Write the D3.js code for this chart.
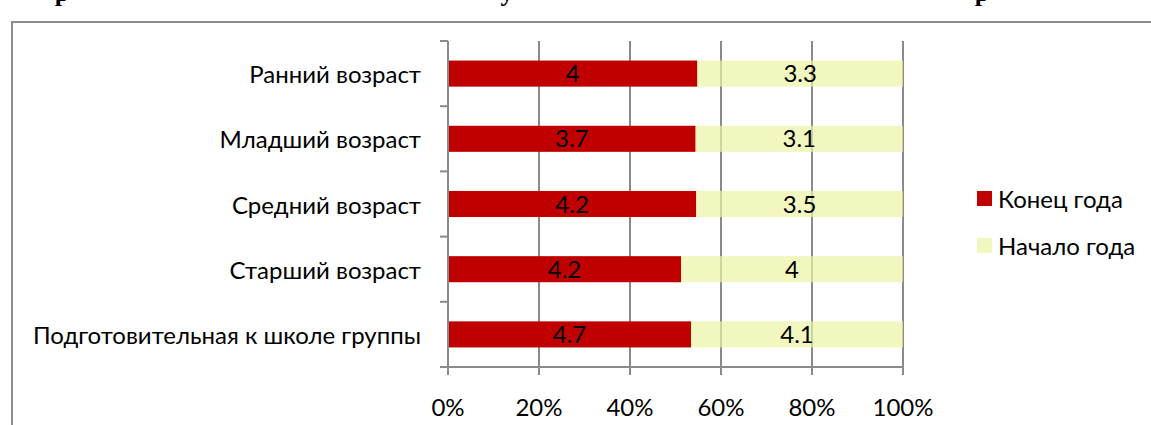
<!DOCTYPE html>
<html>
<head>
<meta charset="utf-8">
<script src="https://cdn.jsdelivr.net/npm/d3@7"></script>
<style>
  body { margin: 0; background: #fff; }
  svg text { font-family: Lato, "Open Sans", sans-serif; }
</style>
</head>
<body>
<script>
// chart data
const categories = ['Ранний возраст', 'Младший возраст', 'Средний возраст', 'Старший возраст', 'Подготовительная к школе группы'];
const endOfYear = [4, 3.7, 4.2, 4.2, 4.7];
const startOfYear = [3.3, 3.1, 3.5, 4, 4.1];
const seriesNames = ['Конец года', 'Начало года'];
const xTicks = [0, 0.2, 0.4, 0.6, 0.8, 1];

const width = 1151, height = 425;
const fontSize = '24px';

const svg = d3.select('body')
    .append('svg')
    .attr('width', width)
    .attr('height', height);

// cut-off title line from the page above (only descenders visible)
const titleBits = [{ t: 'р', x: 62 }, { t: 'у', x: 507 }, { t: 'р', x: 982 }];
svg.selectAll('.title-bit')
    .data(titleBits)
    .enter()
    .append('text')
    .attr('class', 'title-bit')
    .attr('x', d => d.x)
    .attr('y', 1)
    .style('font-family', '"Liberation Serif", serif')
    .style('font-weight', 'bold')
    .style('font-size', '26px')
    .attr('text-anchor', 'middle')
    .text(d => d.t);

// chart frame
svg.append('path')
    .attr('d', `M12,${height} V22 H${width}`)
    .attr('fill', 'none')
    .attr('stroke', '#8c8c8c')
    .attr('stroke-width', 2);

const x = d3.scaleLinear().domain([0, 1]).range([448, 903]);
const y = d3.scaleBand().domain(categories).range([41, 367]).paddingInner(0.6).paddingOuter(0.3);

const gridColor = '#8a8a8a';

// vertical gridlines
svg.selectAll('.grid')
    .data(xTicks)
    .enter()
    .append('line')
    .attr('class', 'grid')
    .attr('x1', d => x(d))
    .attr('x2', d => x(d))
    .attr('y1', 41)
    .attr('y2', 375)
    .attr('stroke', gridColor)
    .attr('stroke-width', 2);

// stacked 100% bars
const rows = categories.map((c, i) => {
    const total = endOfYear[i] + startOfYear[i];
    return { cat: c, end: endOfYear[i], start: startOfYear[i], p: endOfYear[i] / total };
});

svg.selectAll('.bar-end')
    .data(rows)
    .enter()
    .append('rect')
    .attr('class', 'bar-end')
    .attr('x', x(0))
    .attr('y', d => y(d.cat))
    .attr('width', d => x(d.p) - x(0))
    .attr('height', y.bandwidth())
    .attr('fill', '#c00000');

svg.selectAll('.bar-start')
    .data(rows)
    .enter()
    .append('rect')
    .attr('class', 'bar-start')
    .attr('x', d => x(d.p))
    .attr('y', d => y(d.cat))
    .attr('width', d => x(1) - x(d.p))
    .attr('height', y.bandwidth())
    .attr('fill', 'rgb(236,244,165)')
    .attr('fill-opacity', 0.7);

// data labels
svg.selectAll('.lbl-end')
    .data(rows)
    .enter()
    .append('text')
    .attr('x', d => (x(0) + x(d.p)) / 2)
    .attr('y', d => y(d.cat) + y.bandwidth() / 2)
    .attr('dy', '0.36em')
    .attr('text-anchor', 'middle')
    .style('font-size', fontSize)
    .attr('fill', '#000')
    .text(d => d.end);

svg.selectAll('.lbl-start')
    .data(rows)
    .enter()
    .append('text')
    .attr('x', d => (x(d.p) + x(1)) / 2)
    .attr('y', d => y(d.cat) + y.bandwidth() / 2)
    .attr('dy', '0.36em')
    .attr('text-anchor', 'middle')
    .style('font-size', fontSize)
    .attr('fill', '#000')
    .text(d => d.start);

// y axis line and ticks at band boundaries
svg.append('line')
    .attr('x1', x(0)).attr('x2', x(0))
    .attr('y1', 41).attr('y2', 367)
    .attr('stroke', gridColor).attr('stroke-width', 2);

const bounds = d3.range(categories.length + 1).map(i => 41 + i * y.step());
svg.selectAll('.ytick')
    .data(bounds)
    .enter()
    .append('line')
    .attr('x1', x(0) - 8).attr('x2', x(0))
    .attr('y1', d => d).attr('y2', d => d)
    .attr('stroke', gridColor).attr('stroke-width', 2);

// x axis line
svg.append('line')
    .attr('x1', x(0) - 8).attr('x2', x(1))
    .attr('y1', 367).attr('y2', 367)
    .attr('stroke', gridColor).attr('stroke-width', 2);

// category labels
svg.selectAll('.cat')
    .data(categories)
    .enter()
    .append('text')
    .attr('x', 421)
    .attr('y', d => y(d) + y.bandwidth() / 2 + 1)
    .attr('dy', '0.36em')
    .attr('text-anchor', 'end')
    .style('font-size', fontSize)
    .attr('fill', '#000')
    .text(d => d);

// x tick labels
svg.selectAll('.xlbl')
    .data(xTicks)
    .enter()
    .append('text')
    .attr('x', d => x(d))
    .attr('y', 407)
    .attr('dy', '0.36em')
    .attr('text-anchor', 'middle')
    .style('font-size', fontSize)
    .attr('fill', '#000')
    .text(d => d3.format('.0%')(d));

// legend
const legendColors = ['#c00000', '#f2f7c0'];
const legend = svg.append('g').attr('id', 'legend');
legend.selectAll('rect')
    .data(seriesNames)
    .enter()
    .append('rect')
    .attr('x', 977)
    .attr('y', (d, i) => 191 + i * 47)
    .attr('width', 15)
    .attr('height', 15)
    .attr('fill', (d, i) => legendColors[i]);
legend.selectAll('text')
    .data(seriesNames)
    .enter()
    .append('text')
    .attr('x', 998)
    .attr('y', (d, i) => 199 + i * 47)
    .attr('dy', '0.36em')
    .style('font-size', fontSize)
    .attr('fill', '#000')
    .text(d => d);
</script>
</body>
</html>
